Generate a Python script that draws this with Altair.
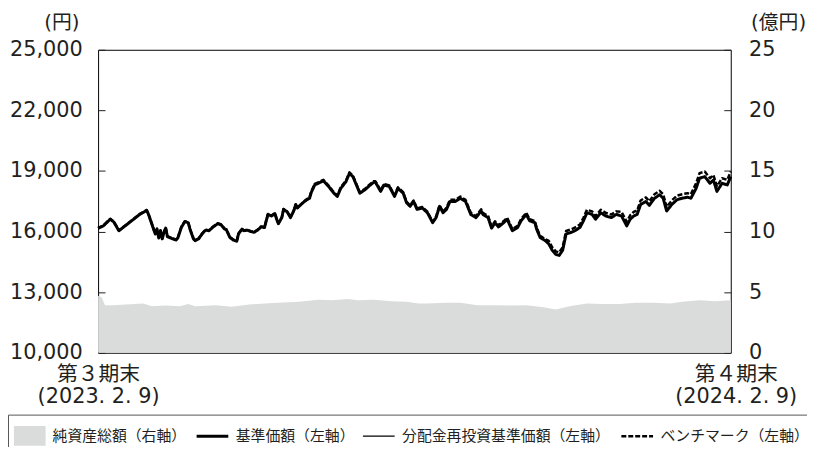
import json
import altair as alt
import pandas as pd

# ---------------- data ----------------
START = "2023-02-09"   # 第３期末

# day offsets from START for the price series
days = [
    0, 3, 7, 9, 12, 18, 24, 28, 29, 32,
    33, 34, 35, 36, 37, 38, 39, 40, 43, 45,
    46, 48, 50, 52, 53, 55, 56, 58, 60, 62,
    64, 66, 69, 71, 73, 74, 76, 78, 80, 81,
    83, 84, 86, 88, 90, 92, 94, 96, 97, 98,
    100, 102, 103, 104, 106, 107, 109, 111, 113, 114,
    115, 117, 119, 122, 123, 125, 127, 130, 133, 136,
    138, 140, 143, 145, 147, 149, 151, 154, 156, 159,
    160, 163, 165, 168, 171, 173, 176, 178, 180, 182,
    184, 187, 190, 193, 195, 197, 199, 201, 203, 206,
    209, 212, 215, 218, 221, 222, 225, 227, 229, 231,
    234, 236, 239, 242, 244, 247, 249, 252, 253, 255,
    258, 260, 262, 264, 266, 268, 270, 273, 275, 278,
    280, 282, 285, 287, 290, 293, 296, 299, 302, 305,
    307, 309, 311, 313, 316, 318, 321, 324, 326, 328,
    331, 334, 337, 340, 342, 345, 347, 350, 353, 355,
    357, 360, 363, 365,
]

base_price = [
    16160, 16280, 16610, 16480, 16040, 16440, 16850, 17050, 16870, 16120,
    15880, 16120, 15680, 16040, 15640, 15960, 16170, 15750, 15640, 15580,
    15680, 16200, 16490, 16440, 16120, 15640, 15550, 15640, 15880, 16070,
    16040, 16200, 16390, 16330, 16120, 16090, 15710, 15580, 15520, 15880,
    16120, 16040, 16070, 16000, 15960, 16070, 16230, 16200, 16530, 16850,
    16770, 16890, 16610, 16390, 16690, 17100, 16980, 16690, 17050, 17330,
    17170, 17330, 17490, 17650, 17940, 18310, 18390, 18510, 18230, 17900,
    17740, 18140, 18470, 18880, 18720, 18310, 17900, 18070, 18230, 18440,
    18440, 17990, 18310, 18230, 17740, 18140, 17900, 17420, 17250, 17490,
    17100, 17170, 16930, 16440, 16690, 17250, 16930, 17100, 17490, 17490,
    17650, 17490, 16850, 16690, 17020, 16850, 16690, 16170, 16430, 16230,
    16440, 16610, 16040, 16200, 16530, 16850, 16530, 16440, 16120, 15710,
    15550, 15390, 15070, 14870, 14820, 15070, 15880, 15960, 16040, 16200,
    16530, 16930, 16850, 16610, 16930, 16770, 16690, 16850, 16770, 16280,
    16610, 16770, 16850, 17340, 17490, 17300, 17650, 17820, 17650, 17020,
    17340, 17580, 17650, 17700, 17650, 18140, 18640, 18720, 18390, 18550,
    17990, 18390, 18310, 18720,
]

# no distributions were paid, so the reinvested price coincides with the base price
reinvest_price = [
    16160, 16280, 16610, 16480, 16040, 16440, 16850, 17050, 16870, 16120,
    15880, 16120, 15680, 16040, 15640, 15960, 16170, 15750, 15640, 15580,
    15680, 16200, 16490, 16440, 16120, 15640, 15550, 15640, 15880, 16070,
    16040, 16200, 16390, 16330, 16120, 16090, 15710, 15580, 15520, 15880,
    16120, 16040, 16070, 16000, 15960, 16070, 16230, 16200, 16530, 16850,
    16770, 16890, 16610, 16390, 16690, 17100, 16980, 16690, 17050, 17330,
    17170, 17330, 17490, 17650, 17940, 18310, 18390, 18510, 18230, 17900,
    17740, 18140, 18470, 18880, 18720, 18310, 17900, 18070, 18230, 18440,
    18440, 17990, 18310, 18230, 17740, 18140, 17900, 17420, 17250, 17490,
    17100, 17170, 16930, 16440, 16690, 17250, 16930, 17100, 17490, 17490,
    17650, 17490, 16850, 16690, 17020, 16850, 16690, 16170, 16430, 16230,
    16440, 16610, 16040, 16200, 16530, 16850, 16530, 16440, 16120, 15710,
    15550, 15390, 15070, 14870, 14820, 15070, 15880, 15960, 16040, 16200,
    16530, 16930, 16850, 16610, 16930, 16770, 16690, 16850, 16770, 16280,
    16610, 16770, 16850, 17340, 17490, 17300, 17650, 17820, 17650, 17020,
    17340, 17580, 17650, 17700, 17650, 18140, 18640, 18720, 18390, 18550,
    17990, 18390, 18310, 18720,
]

benchmark = [
    16180, 16300, 16630, 16500, 16060, 16460, 16870, 17070, 16890, 16140,
    15900, 16140, 15700, 16060, 15660, 15980, 16190, 15770, 15660, 15600,
    15700, 16220, 16510, 16460, 16140, 15660, 15570, 15660, 15900, 16090,
    16060, 16220, 16410, 16350, 16140, 16110, 15730, 15600, 15540, 15900,
    16140, 16060, 16090, 16020, 15980, 16090, 16250, 16220, 16550, 16870,
    16790, 16910, 16630, 16410, 16710, 17120, 17000, 16710, 17070, 17350,
    17190, 17350, 17510, 17700, 17990, 18360, 18440, 18560, 18280, 17950,
    17790, 18190, 18520, 18930, 18770, 18360, 17950, 18120, 18280, 18490,
    18490, 18040, 18360, 18280, 17790, 18190, 17950, 17470, 17300, 17540,
    17150, 17220, 16980, 16490, 16740, 17300, 16980, 17180, 17570, 17570,
    17730, 17570, 16930, 16770, 17100, 16930, 16770, 16250, 16510, 16310,
    16520, 16690, 16120, 16280, 16610, 16930, 16610, 16520, 16200, 15790,
    15630, 15540, 15220, 15020, 14970, 15220, 16030, 16110, 16190, 16350,
    16680, 17080, 17000, 16760, 17080, 16920, 16840, 17000, 16970, 16480,
    16810, 16970, 17050, 17540, 17690, 17500, 17850, 18020, 17850, 17220,
    17540, 17780, 17850, 17900, 17850, 18390, 18890, 18970, 18640, 18800,
    18240, 18640, 18560, 18970,
]

# 純資産総額 (億円)
asset_days = [
    0, 2, 4, 9, 16, 26, 31, 39, 47, 52,
    56, 68, 77, 87, 96, 104, 116, 127, 135, 144,
    150, 159, 169, 178, 185, 190, 200, 209, 219, 228,
    238, 247, 257, 264, 272, 282, 291, 301, 310, 320,
    330, 337, 347, 356, 365,
]
net_assets = [
    4.71, 4.57, 3.92, 3.92, 3.98, 4.06, 3.84, 3.90, 3.84, 4.03,
    3.84, 3.92, 3.79, 3.98, 4.06, 4.12, 4.20, 4.38, 4.33, 4.44,
    4.33, 4.38, 4.25, 4.20, 4.06, 4.06, 4.12, 4.12, 3.92, 3.92,
    3.90, 3.92, 3.76, 3.57, 3.84, 4.06, 4.03, 4.03, 4.12, 4.12,
    4.06, 4.20, 4.33, 4.25, 4.33,
]

S_ASSET = "純資産総額（右軸）"
S_BASE = "基準価額（左軸）"
S_REINV = "分配金再投資基準価額（左軸）"
S_BENCH = "ベンチマーク（左軸）"
LINE_SERIES = [S_BASE, S_REINV, S_BENCH]

left_ticks = [10000, 13000, 16000, 19000, 22000, 25000]
right_ticks = [0, 5, 10, 15, 20, 25]
x_label_first = ["第３期末", "(2023. 2. 9)"]
x_label_last = ["第４期末", "(2024. 2. 9)"]

# ---------------- styling ----------------
TXT = "#231f20"
AXIS_FONT = "DejaVu Sans, Noto Sans CJK JP"
CJK_FONT = "Noto Sans CJK JP"
GRAY = "#dadbdb"
LINE_COLORS = ["black", "black", "black"]
LINE_DASHES = [[1, 0], [1, 0], [5, 2]]
WIDTHS = {S_BASE: 3, S_REINV: 1.2, S_BENCH: 2.5}

start = pd.Timestamp(START)


def to_dates(ds):
    return [(start + pd.Timedelta(days=int(d))).strftime("%Y-%m-%d") for d in ds]


def series_df(vals, name):
    return pd.DataFrame({"date": to_dates(days), "value": vals, "series": name})


def js(s):
    return json.dumps(s, ensure_ascii=False)


d0 = alt.DateTime(year=2023, month=2, date=9, utc=True)
d1 = alt.DateTime(year=2024, month=2, date=9, utc=True)

label_expr = "utcyear(datum.value) == 2023 ? {} : {}".format(js(x_label_first), js(x_label_last))

x_enc = alt.X(
    "date:T",
    scale=alt.Scale(domain=[d0, d1], nice=False),
    axis=alt.Axis(
        values=[d0, d1], labelExpr=label_expr, ticks=False, domain=False,
        grid=False, labelFlush=False, labelOverlap=False, labelAlign="center",
        labelBaseline="top", labelPadding=11, labelLineHeight=22,
        labelFontSize=21, title=None,
        labelOffset={"condition": {"test": "utcyear(datum.value) == 2024", "value": 5}, "value": 0},
    ),
)

sw_expr = "(datum.value === {} ? {} : (datum.value === {} ? {} : {}))".format(
    js(S_BASE), WIDTHS[S_BASE], js(S_REINV), WIDTHS[S_REINV], WIDTHS[S_BENCH]
)

# legend of the three lines: it carries the frame; the blank title leaves room for
# the 純資産総額 entry, which is a second, frameless legend placed inside that frame
line_legend = alt.Legend(
    title=" ", titleOrient="left", titlePadding=185, titleFontSize=4,
    orient="none", legendX=-91, legendY=368.5, direction="horizontal",
    symbolType="stroke", symbolSize=1024, symbolStrokeWidth={"expr": sw_expr},
    labelFont=CJK_FONT, labelFontSize=15, labelColor=TXT, labelLimit=400,
    labelOffset=6, columnPadding=5, padding=4, strokeColor="#555555",
)
asset_legend = alt.Legend(
    title=None, orient="none", legendX=-85, legendY=374, direction="horizontal",
    symbolType="M-1,-0.625H1V0.625H-1Z", symbolSize=1024, symbolStrokeWidth=0,
    labelFont=CJK_FONT, labelFontSize=15, labelColor=TXT, labelLimit=400,
    labelOffset=7, padding=0,
)

color_enc = alt.Color("series:N", scale=alt.Scale(domain=LINE_SERIES, range=LINE_COLORS), legend=line_legend)
dash_enc = alt.StrokeDash("series:N", scale=alt.Scale(domain=LINE_SERIES, range=LINE_DASHES), legend=line_legend)

left_axis = alt.Axis(
    orient="left", values=left_ticks, format=",d", offset=-7, tickSize=7,
    tickColor=TXT, domain=False, grid=False, labelPadding=16, labelFontSize=21,
    title="(円)", titleAngle=0, titleX=-44, titleY=-27, titleAlign="center",
    titleBaseline="middle", titleFontSize=20, titleFontWeight="normal",
)
right_axis = alt.Axis(
    orient="right", values=right_ticks, format="d", offset=-7, tickSize=7,
    tickColor=TXT, domain=False, grid=False, labelPadding=18, labelFontSize=21,
    title="(億円)", titleAngle=0, titleX=27, titleY=-27, titleAlign="left",
    titleBaseline="middle", titleFontSize=20, titleFontWeight="normal",
)

y_left = alt.Y("value:Q", scale=alt.Scale(domain=[10000, 25000], nice=False, zero=False), axis=left_axis)
y_right = alt.Y("assets:Q", scale=alt.Scale(domain=[0, 25], nice=False), axis=right_axis)


def line_layer(vals, name):
    return alt.Chart(series_df(vals, name)).mark_line(strokeJoin="round").encode(
        x=x_enc, y=y_left, color=color_enc, strokeDash=dash_enc,
        strokeWidth=alt.value(WIDTHS[name]),
    )


lines = alt.layer(
    line_layer(reinvest_price, S_REINV),
    line_layer(base_price, S_BASE),
    line_layer(benchmark, S_BENCH),
)

asset_df = pd.DataFrame({"date": to_dates(asset_days), "assets": net_assets, "series": S_ASSET})
area = alt.Chart(asset_df).mark_area().encode(
    x=x_enc, y=y_right,
    fill=alt.Fill("series:N", scale=alt.Scale(domain=[S_ASSET], range=[GRAY]), legend=asset_legend),
)

chart = (
    alt.layer(lines, area)
    .resolve_scale(y="independent")
    .properties(
        width=639, height=306,
        padding={"left": 91, "top": 40, "right": 77, "bottom": 93},
        autosize=alt.AutoSizeParams(type="none"),
    )
    .configure_view(stroke="black", strokeWidth=1)
    .configure_axis(labelFont=AXIS_FONT, titleFont=AXIS_FONT, labelColor=TXT, titleColor=TXT)
)

chart.save("out.html", embed_options={"renderer": "svg", "actions": False})
